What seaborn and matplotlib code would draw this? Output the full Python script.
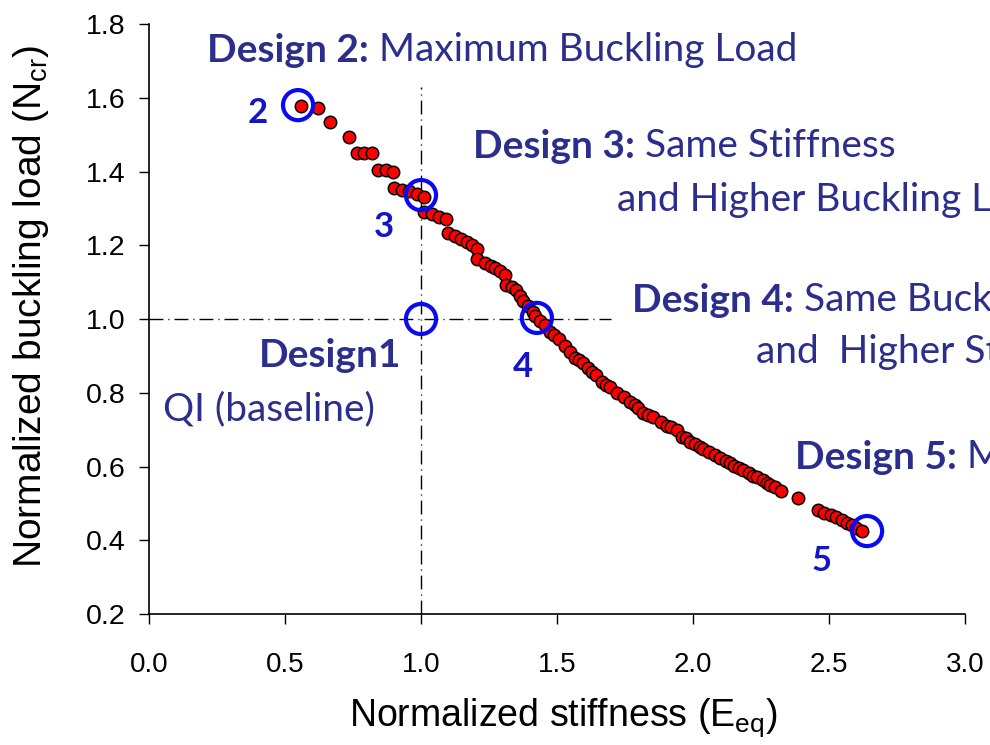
import matplotlib
matplotlib.use("Agg")
import matplotlib.pyplot as plt
import seaborn as sns
import pandas as pd

# ---------------- data ----------------
stiffness = [0.557, 0.622, 0.664, 0.737, 0.763, 0.790, 0.819, 0.843, 0.871, 0.898,
             0.902, 0.929, 0.957, 0.984, 1.011, 1.011, 1.039, 1.067, 1.091, 1.100,
             1.125, 1.146, 1.168, 1.186, 1.207, 1.207, 1.235, 1.256, 1.272, 1.290,
             1.309, 1.313, 1.333, 1.351, 1.364, 1.376, 1.395, 1.413, 1.419, 1.437,
             1.456, 1.474, 1.490, 1.509, 1.530, 1.548, 1.566, 1.580, 1.597, 1.615,
             1.630, 1.643, 1.664, 1.680, 1.695, 1.719, 1.747, 1.768, 1.785, 1.799,
             1.817, 1.835, 1.854, 1.881, 1.903, 1.920, 1.940, 1.958, 1.975, 1.989,
             2.007, 2.025, 2.038, 2.060, 2.080, 2.099, 2.120, 2.136, 2.151, 2.170,
             2.185, 2.205, 2.222, 2.234, 2.258, 2.271, 2.283, 2.300, 2.322, 2.387,
             2.461, 2.482, 2.506, 2.526, 2.547, 2.565, 2.583, 2.601, 2.620]
buckling = [1.578, 1.571, 1.533, 1.494, 1.449, 1.449, 1.449, 1.404, 1.404, 1.399,
            1.354, 1.350, 1.348, 1.338, 1.332, 1.291, 1.285, 1.277, 1.270, 1.234,
            1.224, 1.216, 1.210, 1.201, 1.189, 1.162, 1.153, 1.145, 1.137, 1.131,
            1.119, 1.092, 1.086, 1.079, 1.062, 1.049, 1.035, 1.020, 1.008, 0.995,
            0.984, 0.966, 0.956, 0.945, 0.928, 0.911, 0.893, 0.888, 0.880, 0.866,
            0.857, 0.848, 0.830, 0.822, 0.815, 0.798, 0.788, 0.776, 0.768, 0.760,
            0.744, 0.740, 0.733, 0.722, 0.711, 0.707, 0.700, 0.681, 0.676, 0.667,
            0.660, 0.654, 0.647, 0.638, 0.630, 0.622, 0.614, 0.609, 0.601, 0.596,
            0.591, 0.582, 0.574, 0.572, 0.563, 0.556, 0.550, 0.544, 0.534, 0.514,
            0.482, 0.475, 0.469, 0.462, 0.455, 0.448, 0.441, 0.432, 0.425]

design_ids = ["1", "2", "3", "4", "5"]
design_x = [1.0, 0.548, 1.0, 1.426, 2.64]
design_y = [1.0, 1.58, 1.336, 1.003, 0.425]

x_ticks = [0.0, 0.5, 1.0, 1.5, 2.0, 2.5, 3.0]
y_ticks = [0.2, 0.4, 0.6, 0.8, 1.0, 1.2, 1.4, 1.6, 1.8]

x_label = "Normalized stiffness (E$_{\\mathregular{eq}}$)"
y_label = "Normalized buckling load (N$_{\\mathregular{cr}}$)"

# (bold part, regular part, x, y)
annotations = [
    ("Design 2:", " Maximum Buckling Load", 0.213, 1.697),
    ("Design 3:", " Same Stiffness", 1.191, 1.437),
    ("", "and Higher Buckling Load", 1.721, 1.293),
    ("Design 4:", " Same Buckling Load", 1.776, 1.019),
    ("", "and  Higher Stiffness", 2.232, 0.881),
    ("Design 5:", " Maximum Stiffness", 2.375, 0.593),
]
label_pos = {"2": (0.401, 1.559), "3": (0.864, 1.249), "4": (1.375, 0.870), "5": (2.474, 0.344)}

# ---------------- style ----------------
sns.set_style("ticks")
plt.rcParams["font.family"] = ["Liberation Sans", "DejaVu Sans"]
plt.rcParams["mathtext.fontset"] = "custom"
plt.rcParams["mathtext.rm"] = "Liberation Sans"
plt.rcParams["text.color"] = "black"
plt.rcParams["axes.labelcolor"] = "black"
plt.rcParams["xtick.color"] = "black"
plt.rcParams["ytick.color"] = "black"

NAVY = "#2B2E8C"
BLUE = "#1414C8"

fig = plt.figure(figsize=(9.9, 7.45), dpi=100)
ax = fig.add_axes([149 / 990, 1 - 614 / 745, (965 - 149) / 990, (614 - 24) / 745])

# reference lines
dash = (0, (10, 3.6, 0.8, 3.6))
ax.plot([1.0, 1.0], [0.2, 1.63], color="black", lw=1.0, linestyle=dash, zorder=1)
ax.plot([0.0, 1.7], [1.0, 1.0], color="black", lw=1.0, linestyle=dash, zorder=1)

df = pd.DataFrame({"x": stiffness, "y": buckling})
sns.scatterplot(data=df, x="x", y="y", ax=ax, color="#FF0000", edgecolor="black",
                linewidth=1.1, s=80, zorder=3, legend=False)

dd = pd.DataFrame({"x": design_x, "y": design_y, "id": design_ids})
sns.scatterplot(data=dd, x="x", y="y", ax=ax, facecolors="none", edgecolor="#0A0AF0",
                linewidth=3.0, s=470, zorder=4, legend=False, marker="o")

ax.set_xlim(0, 3.0)
ax.set_ylim(0.2, 1.8)
ax.set_xticks(x_ticks)
ax.set_yticks(y_ticks)
ax.set_xticklabels([f"{v:.1f}" for v in x_ticks], fontsize=20)
ax.set_yticklabels([f"{v:.1f}" for v in y_ticks], fontsize=20.5)
ax.tick_params(axis="both", length=7, width=1, color="black", labelcolor="black")
ax.tick_params(axis="y", pad=10)
ax.tick_params(axis="x", pad=20)
for s in ["left", "bottom"]:
    ax.spines[s].set_linewidth(1.2)
    ax.spines[s].set_color("black")
sns.despine(ax=ax)

ax.set_xlabel(x_label, fontsize=27, va="center", color="black")
ax.set_ylabel(y_label, fontsize=28, va="center", color="black")
ax.xaxis.set_label_coords(563 / 990, 1 - 718 / 745, transform=fig.transFigure)
ax.yaxis.set_label_coords(31 / 990, 1 - 307 / 745, transform=fig.transFigure)

FONT = "Lato"
FS = 28
for bold, reg, x, y in annotations:
    if bold:
        t1 = ax.text(x, y, bold, fontsize=FS, fontweight="bold", color=NAVY, family=FONT,
                     ha="left", va="baseline", zorder=5, clip_on=False)
        ax.annotate(reg, xy=(1, 0), xycoords=t1, fontsize=FS, color=NAVY, family=FONT,
                    ha="left", va="bottom", zorder=5, annotation_clip=False)
    else:
        ax.text(x, y, reg, fontsize=FS, color=NAVY, family=FONT, ha="left", va="baseline",
                zorder=5, clip_on=False)

ax.text(0.664, 0.870, "Design1", fontsize=FS, fontweight="bold", color=NAVY, family=FONT,
        ha="center", va="baseline", zorder=5)
ax.text(0.051, 0.726, "QI (baseline)", fontsize=FS, color=NAVY, family=FONT,
        ha="left", va="baseline", zorder=5)

for k, (x, y) in label_pos.items():
    ax.text(x, y, k, fontsize=25, fontweight="bold", color=BLUE, family=FONT,
            ha="center", va="center", zorder=5)

fig.savefig("out.png", dpi=100)
